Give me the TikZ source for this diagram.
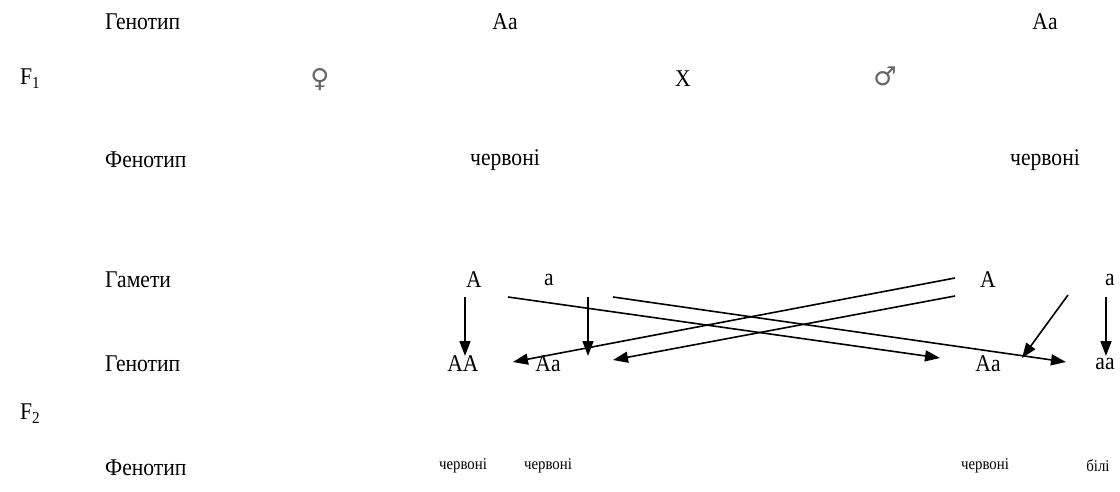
\documentclass[tikz,border=0pt]{standalone}
\usepackage{fontspec}
\setmainfont{Liberation Serif}[FakeStretch=0.9]
\newfontfamily\symfont{DejaVu Sans}
\usetikzlibrary{arrows.meta}
\begin{document}
\begin{tikzpicture}[x=1pt,y=-1pt,
  txt/.style={inner sep=0pt,font=\fontsize{24}{28}\selectfont},
  lbl/.style={txt,anchor=west},
  small/.style={inner sep=0pt,font=\fontsize{16.5}{20}\selectfont},
  sym/.style={inner sep=0pt,font=\symfont\fontsize{26}{30}\selectfont,text=black!60},
  arr/.style={line width=1.6pt,-{Triangle[length=15pt,width=11pt]}}]
\useasboundingbox (0,0) rectangle (1120,492);
% row 1
\node[lbl] (g1) at (105,22) {Генотип};
\node[txt] (p1) at (505,22) {Aa};
\node[txt] (p2) at (1045,22) {Aa};
\node[lbl] (f1) at (20,79) {F\textsubscript{1}};
\node[sym] (fem) at (320,80) {♀};
\node[txt] (cross) at (683,79) {X};
\node[sym] (mal) at (885,76) {♂};
\node[lbl] (ph1) at (105,160) {Фенотип};
\node[txt] (r1) at (505,160) {червоні};
\node[txt] (r2) at (1045,160) {червоні};
% gametes
\node[lbl] (gm) at (105,280) {Гамети};
\node[txt] (gA1) at (474,280) {A};
\node[txt] (ga1) at (549,280) {a};
\node[txt] (gA2) at (988,280) {A};
\node[txt] (ga2) at (1110,280) {a};
% F2 genotypes
\node[lbl] (g2) at (105,364) {Генотип};
\node[txt] (oAA) at (463,364) {AA};
\node[txt] (oAa1) at (548,364) {Aa};
\node[txt] (oAa2) at (988,364) {Aa};
\node[txt] (oaa) at (1105,364) {aa};
\node[lbl] (f2) at (20,414) {F\textsubscript{2}};
\node[lbl] (ph2) at (105,468) {Фенотип};
\node[small] (s1) at (463,466) {червоні};
\node[small] (s2) at (548,466) {червоні};
\node[small] (s3) at (985,466) {червоні};
\node[small] (s4) at (1098,466) {білі};
% arrow end points
\coordinate (A1v) at (465,297);
\coordinate (AAv) at (465,356);
\coordinate (a1v) at (588,297);
\coordinate (Aa1v) at (588,356);
\coordinate (A1d) at (508,297);
\coordinate (Aa2d) at (940,358);
\coordinate (a1d) at (613,297);
\coordinate (aad) at (1066,362);
\coordinate (A2u) at (955,278);
\coordinate (AAu) at (513,362);
\coordinate (A2l) at (955,296);
\coordinate (Aa1l) at (613,360);
\coordinate (a2d) at (1068,295);
\coordinate (Aa2r) at (1022,358);
\coordinate (a2v) at (1106,297);
\coordinate (aav) at (1106,356);
\draw[arr] (A1v) -- (AAv);
\draw[arr] (a1v) -- (Aa1v);
\draw[arr] (A1d) -- (Aa2d);
\draw[arr] (a1d) -- (aad);
\draw[arr] (A2u) -- (AAu);
\draw[arr] (A2l) -- (Aa1l);
\draw[arr] (a2d) -- (Aa2r);
\draw[arr] (a2v) -- (aav);
\end{tikzpicture}
\end{document}
